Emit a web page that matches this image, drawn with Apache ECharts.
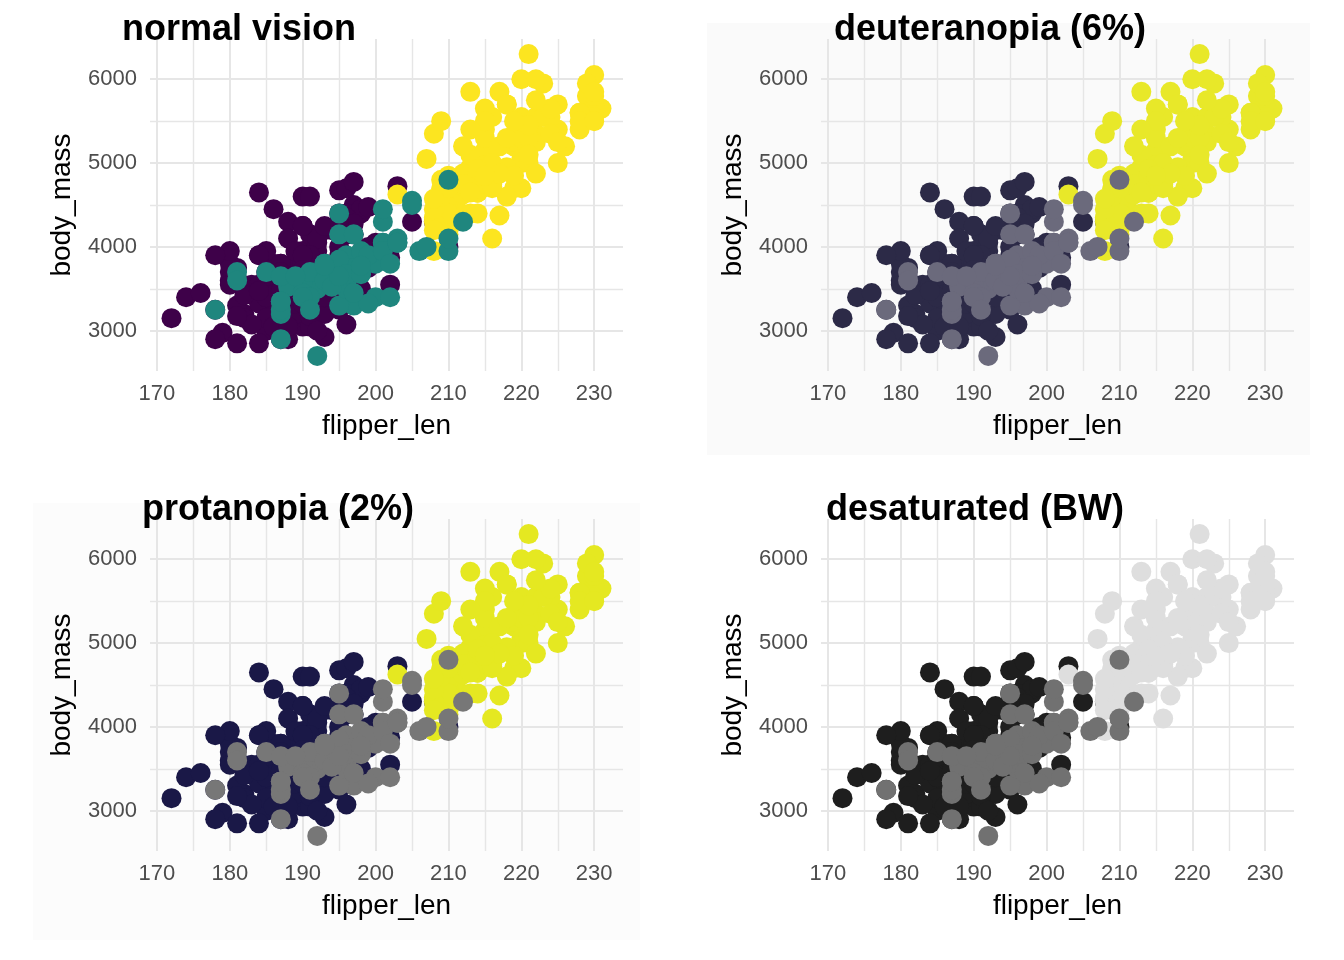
<!DOCTYPE html>
<html>
<head>
<meta charset="utf-8">
<script src="https://cdn.jsdelivr.net/npm/echarts@6/dist/echarts.min.js"></script>
<style>
  html, body { margin: 0; padding: 0; background: #fff; }
  #chart { width: 1344px; height: 960px; }
</style>
</head>
<body>
<div id="chart"></div>
<script>
// penguins: flipper length (mm) and body mass (g)
const adelieFlipper = [181,186,195,193,190,181,195,193,190,186,180,182,191,198,185,195,197,184,194,174,180,189,185,180,187,183,187,172,180,178,178,188,184,195,196,190,180,181,184,182,195,186,196,185,190,182,179,190,191,186,188,190,200,187,191,186,193,181,194,185,195,185,192,184,192,195,188,190,198,190,190,196,197,190,195,191,184,187,195,189,196,187,193,191,194,190,189,189,190,202,205,185,186,187,208,190,196,178,192,192,203,183,190,193,184,199,190,181,197,198,191,193,197,191,196,188,199,189,189,187,198,176,202,186,199,191,195,191,210,190,197,193,199,187,190,191,200,185,193,193,187,188,190,192,185,190,184,195,193,187,201];
const adelieMass = [3750,3800,3250,3450,3650,3625,4675,3475,4250,3300,3700,3200,3800,4400,3700,3450,4500,3325,4200,3400,3600,3800,3950,3800,3800,3550,3200,3150,3950,3250,3900,3300,3900,3325,4150,3950,3550,3300,4650,3150,3900,3100,4400,3000,4600,3425,2975,3450,4150,3500,4300,3450,4050,2900,3700,3550,3800,2850,3750,3150,4400,3600,4050,2850,3950,3350,4100,3050,4450,3600,3900,3550,4150,3700,4250,3700,3900,3550,4000,3200,4700,3800,4200,3350,3550,3800,3500,3950,3600,3550,4300,3400,4450,3300,4300,3700,4350,2900,4100,3725,4725,3075,4250,2925,3550,3750,3900,3175,4775,3825,4600,3200,4275,3900,3075,2900,3775,3350,3325,3150,3500,3450,3875,3050,4000,3275,4300,3050,4000,3325,3500,3500,4475,3425,3900,3175,3975,3400,4250,3400,3475,3050,3725,3000,3650,4250,3475,3450,3750,3700,4000];

const gentooFlipper = [211,230,210,218,215,210,211,219,209,215,214,216,214,213,210,217,210,221,209,222,218,215,213,215,215,215,216,215,210,220,222,209,207,230,220,220,213,219,208,208,208,225,210,216,222,217,210,225,213,215,210,220,210,225,217,220,208,220,208,224,208,221,214,231,219,230,214,229,220,223,216,221,221,217,216,230,209,220,215,223,212,221,212,224,212,228,218,218,212,230,218,228,212,224,214,226,216,222,203,225,219,228,215,228,216,215,210,219,208,209,216,229,213,230,217,230,217,222,214,215,222,212,213];
const gentooMass = [4500,5700,4450,5700,5400,4550,4800,5200,4400,5150,4650,5550,4650,5850,4200,5850,4150,6300,4800,5350,5700,5000,4400,5050,5000,5100,4100,5650,4600,5550,5250,4700,5050,6050,5150,5400,4950,5250,4350,5350,3950,5700,4300,4750,5550,4900,4200,5400,5100,5300,4850,5300,4400,5000,4900,5050,4300,5000,4450,5550,4200,5300,4400,5650,4700,5700,4650,5800,4700,5550,4750,5000,5100,5200,4700,5800,4600,6000,4750,5950,4625,5450,4725,5350,4750,5600,4600,5300,4875,5550,4950,5400,4750,5650,4850,5200,4925,4875,4625,5250,4850,5600,4975,5500,4725,5500,4700,5500,4575,5500,5000,5950,4650,5500,4375,5850,4875,6000,4925,4850,5750,5200,5400];

const chinstrapFlipper = [192,196,193,188,197,198,178,197,195,198,193,194,185,201,190,201,197,181,190,195,181,191,187,193,195,197,200,200,191,205,187,201,187,203,195,199,195,210,192,205,210,187,196,196,196,201,190,212,187,198,199,201,193,203,187,197,191,203,202,194,206,189,195,207,202,193,210,198];
const chinstrapMass = [3500,3900,3650,3525,3725,3950,3250,3750,4150,3700,3800,3775,3700,4050,3575,4050,3300,3700,3450,4400,3600,3400,2900,3800,3300,4150,3400,3800,3700,4550,3200,4300,3350,4100,3600,3900,3850,4800,2700,4500,3950,3650,3550,3500,3675,4450,3400,4300,3250,3675,3325,3950,3600,4050,3350,3450,3250,4050,3800,3525,3950,3650,3650,4000,3400,3775,4100,3775];

const panelTitles = ['normal vision', 'deuteranopia (6%)', 'protanopia (2%)', 'desaturated (BW)'];
// colours per panel: Adelie, Gentoo, Chinstrap
const panelColors = [
  ['#3e0149', '#fce520', '#1f867e'],
  ['#2c2a47', '#e8e829', '#6b6a7c'],
  ['#1a1847', '#e5e821', '#777777'],
  ['#1e1e1e', '#dedede', '#717171']
];

const zip = (xs, ys) => xs.map((x, i) => [x, ys[i]]);
const speciesData = [
  zip(adelieFlipper, adelieMass),
  zip(gentooFlipper, gentooMass),
  zip(chinstrapFlipper, chinstrapMass)
];

const font = "'Liberation Sans', Arial, Helvetica, sans-serif";
const gridColor = '#e6e6e6';
const offsets = [[0, 0], [671, 0], [0, 480], [671, 480]];
const titleLeft = [117, 829, 137, 821];

const grids = [], xAxes = [], yAxes = [], titles = [], series = [];
offsets.forEach(([dx, dy], p) => {
  grids.push({ left: 150 + dx, top: 39 + dy, width: 473, height: 332, containLabel: false });
  titles.push({
    text: panelTitles[p], left: titleLeft[p], top: 7 + dy,
    textStyle: { fontFamily: font, fontSize: 36, fontWeight: 'bold', color: '#000' }
  });
  xAxes.push({
    type: 'value', gridIndex: p, min: 169.05, max: 233.95, splitNumber: 6,
    name: 'flipper_len', nameLocation: 'middle', nameGap: 41,
    nameTextStyle: { fontFamily: font, fontSize: 28, color: '#000' },
    axisLine: { show: false }, axisTick: { show: false },
    axisLabel: { fontFamily: font, fontSize: 22, color: '#4d4d4d', margin: 12, showMinLabel: false, showMaxLabel: false },
    splitLine: { show: true, showMinLine: false, showMaxLine: false, lineStyle: { color: gridColor, width: 2 } },
    minorTick: { show: false, splitNumber: 2 },
    minorSplitLine: { show: true, lineStyle: { color: gridColor, width: 1.4 } }
  });
  yAxes.push({
    type: 'value', gridIndex: p, min: 2520, max: 6480, splitNumber: 4,
    name: 'body_mass', nameLocation: 'middle', nameGap: 74, nameRotate: 90,
    nameTextStyle: { fontFamily: font, fontSize: 28, color: '#000' },
    axisLine: { show: false }, axisTick: { show: false },
    axisLabel: {
      fontFamily: font, fontSize: 22, color: '#4d4d4d', margin: 13,
      showMinLabel: false, showMaxLabel: false, formatter: (v) => String(v)
    },
    splitLine: { show: true, showMinLine: false, showMaxLine: false, lineStyle: { color: gridColor, width: 2 } },
    minorTick: { show: false, splitNumber: 2 },
    minorSplitLine: { show: true, lineStyle: { color: gridColor, width: 1.4 } }
  });
  speciesData.forEach((d, s) => {
    series.push({
      type: 'scatter', xAxisIndex: p, yAxisIndex: p, data: d,
      symbolSize: 20, itemStyle: { color: panelColors[p][s], opacity: 1 },
      silent: true, animation: false
    });
  });
});

const chart = echarts.init(document.getElementById('chart'), null, { renderer: 'canvas' });
chart.setOption({
  backgroundColor: '#ffffff',
  animation: false,
  graphic: [
    { type: 'rect', shape: { x: 707, y: 23, width: 603, height: 432 }, style: { fill: '#fafafa' }, z: -10, silent: true },
    { type: 'rect', shape: { x: 33, y: 503, width: 607, height: 437 }, style: { fill: '#fcfcfc' }, z: -10, silent: true }
  ],
  title: titles,
  grid: grids,
  xAxis: xAxes,
  yAxis: yAxes,
  series: series
});
</script>
</body>
</html>
